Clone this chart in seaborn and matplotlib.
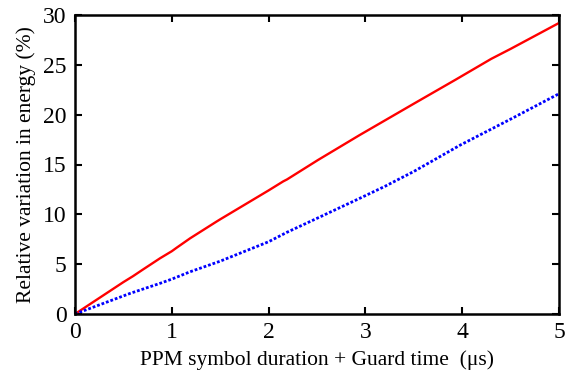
import matplotlib
matplotlib.use("Agg")
import matplotlib.pyplot as plt
import seaborn as sns
import pandas as pd

red_x = [0, 0.25, 0.5, 0.6, 0.7, 0.88, 1.0, 1.05, 1.19, 1.46, 1.5, 2.0, 2.15, 2.19,
         2.51, 2.94, 3.5, 3.93, 4.3, 4.5, 5.0]
red_y = [0, 1.6, 3.2, 3.8, 4.45, 5.6, 6.3, 6.65, 7.6, 9.26, 9.5, 12.4, 13.3, 13.5,
         15.45, 17.95, 21.1, 23.5, 25.6, 26.6, 29.2]
blue_x = [0, 0.57, 0.88, 1.0, 1.19, 1.5, 2.0, 2.19, 2.5, 2.94, 3.2, 3.5, 3.98, 4.49, 5.0]
blue_y = [0, 2.07, 3.08, 3.5, 4.24, 5.3, 7.25, 8.2, 9.6, 11.6, 12.8, 14.3, 16.95, 19.5, 22.1]
x_ticks = [0, 1, 2, 3, 4, 5]
y_ticks = [0, 5, 10, 15, 20, 25, 30]

sns.set_theme(style="ticks")
plt.rcParams['font.family'] = ['Liberation Serif', 'DejaVu Serif']
plt.rcParams['text.color'] = 'black'
plt.rcParams['axes.labelcolor'] = 'black'

fig = plt.figure(figsize=(5.69, 3.79), dpi=100)
ax = fig.add_axes([75/569, 1 - 314/379, (559-75)/569, (314-15)/379])

red = pd.DataFrame({"x": red_x, "y": red_y})
blue = pd.DataFrame({"x": blue_x, "y": blue_y})
sns.lineplot(data=red, x="x", y="y", ax=ax, color="#ff0000", linewidth=1.7, estimator=None, sort=False)
sns.lineplot(data=blue, x="x", y="y", ax=ax, color="#0000ff", linewidth=2.0, estimator=None, sort=False,
             linestyle=(0, (1, 0.7)))

ax.set_xlim(0, 5)
ax.set_ylim(0, 30)
ax.set_xticks(x_ticks)
ax.set_yticks(y_ticks)
ax.tick_params(direction="in", top=True, right=True, length=5, width=1.5, labelsize=17,
               colors="black", labelcolor="black")
ax.tick_params(axis="y", pad=6)
ax.tick_params(axis="x", pad=6)
for s in ax.spines.values():
    s.set_linewidth(1.8)
    s.set_color("black")
ax.set_xlabel("PPM symbol duration + Guard time  (μs)", fontsize=15.5, labelpad=5, color="black")
ax.set_ylabel("Relative variation in energy (%)", fontsize=15.5, labelpad=5, color="black")

fig.savefig("out.png", dpi=100)
